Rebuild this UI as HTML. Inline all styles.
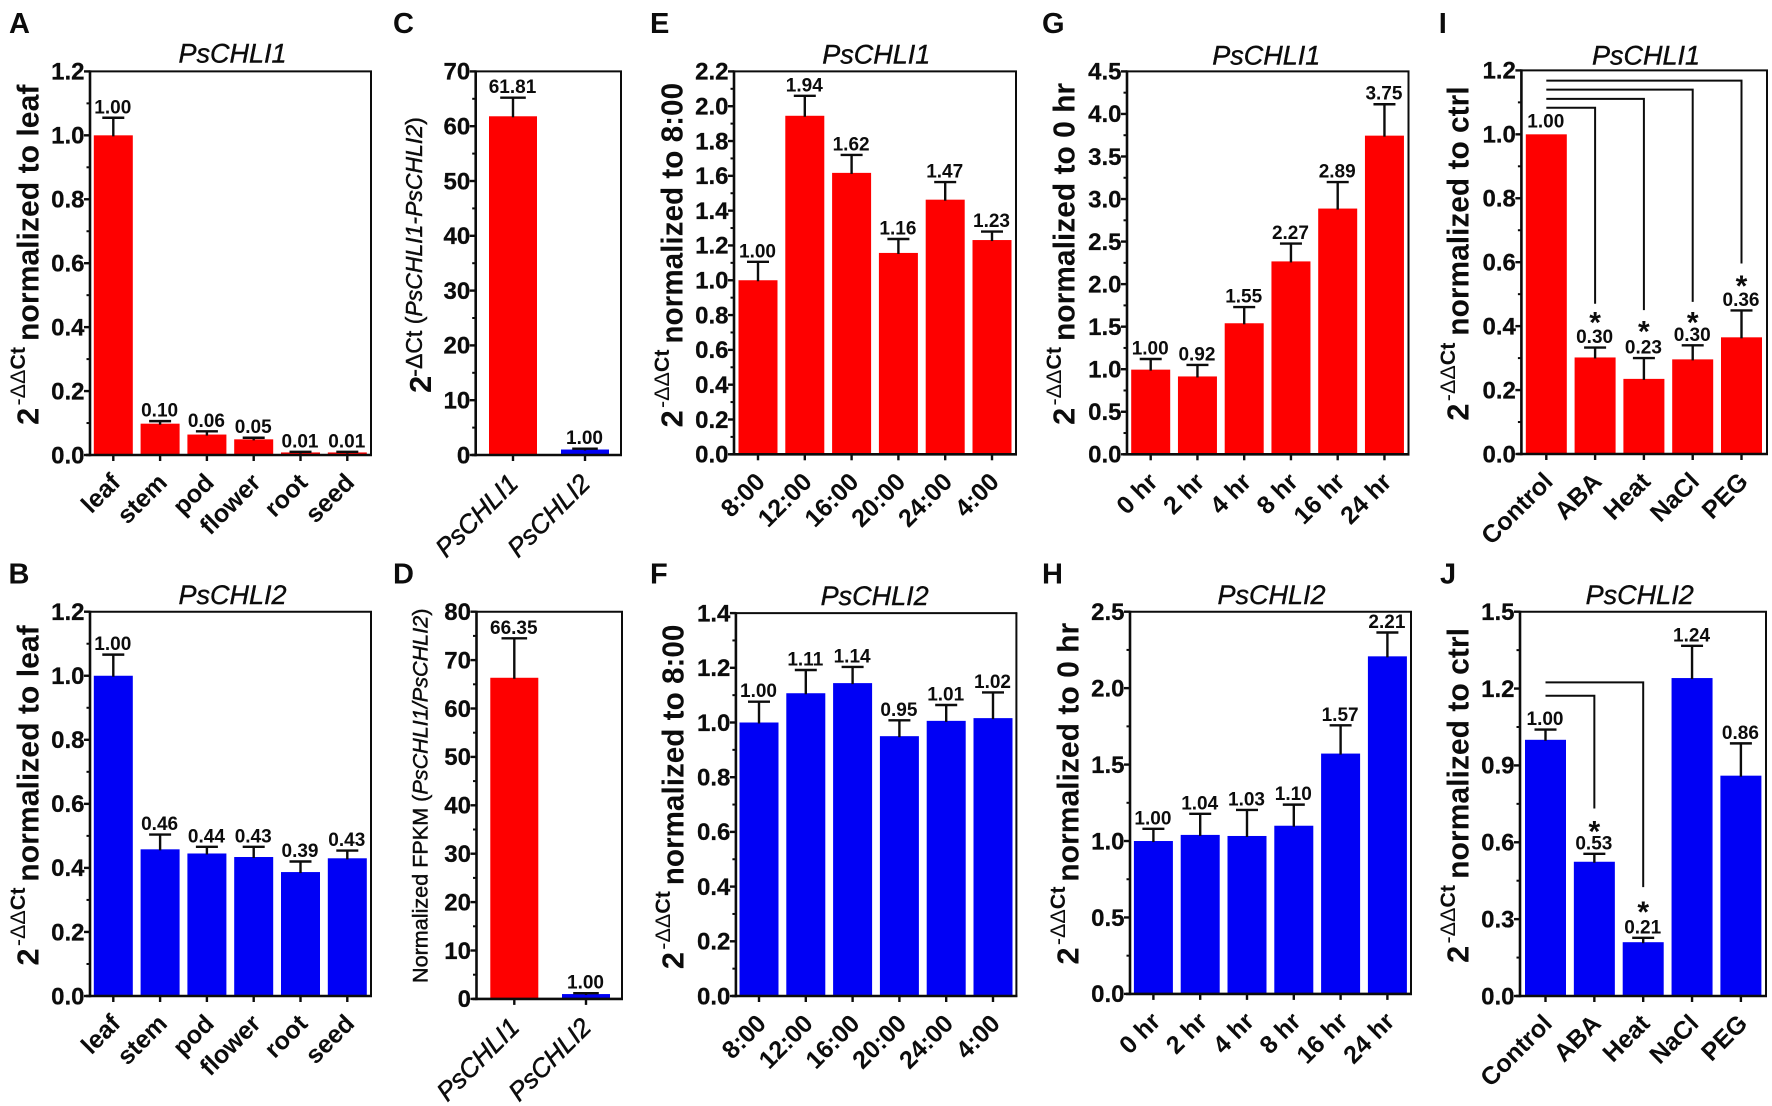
<!DOCTYPE html>
<html lang="en">
<head>
<meta charset="utf-8">
<title>PsCHLI1 and PsCHLI2 expression panels</title>
<style>
  html, body { margin: 0; padding: 0; background: #fff; }
  #figure { display: block; width: 1772px; height: 1106px; background: #fff; }
  text { font-family: "Liberation Sans", Arial, sans-serif; fill: #0c0c0c; }
  .letter { font-size: 29px; font-weight: 700; }
  .title { font-size: 27px; font-style: italic; stroke: #0c0c0c; stroke-width: .4px; }
  .tick { font-size: 24px; font-weight: 700; stroke: #0c0c0c; stroke-width: .25px; }
  .cat { font-size: 25px; font-weight: 700; }
  .cat-i { font-size: 26px; font-style: italic; font-weight: 400; stroke: #0c0c0c; stroke-width: .5px; }
  .val { font-size: 19px; font-weight: 700; }
  .star { font-size: 30px; font-weight: 700; }
  .yt { font-size: 31px; font-weight: 700; }
  .sup { font-size: 21.5px; font-weight: 700; }
  .sup .thin { font-weight: 400; }
  .yt-small { font-size: 23px; font-weight: 400; stroke: #0c0c0c; stroke-width: .45px; }
  .yt-fpkm { font-size: 21.6px; font-weight: 400; stroke: #0c0c0c; stroke-width: .45px; }
</style>
</head>
<body>
<svg id="figure" xmlns="http://www.w3.org/2000/svg" width="1772" height="1106" viewBox="0 0 1772 1106"></svg>
<script>
// ---- Panel data ----
const tissues = ['leaf', 'stem', 'pod', 'flower', 'root', 'seed'];
const genes = ['PsCHLI1', 'PsCHLI2'];
const clock = ['8:00', '12:00', '16:00', '20:00', '24:00', '4:00'];
const hours = ['0 hr', '2 hr', '4 hr', '8 hr', '16 hr', '24 hr'];
const stress = ['Control', 'ABA', 'Heat', 'NaCl', 'PEG'];

const valuesA = [1.0, 0.098, 0.064, 0.049, 0.008, 0.008];
const errorsA = [1.055, 0.106, 0.074, 0.054, 0.010, 0.010];
const labelsA = ['1.00', '0.10', '0.06', '0.05', '0.01', '0.01'];
const ticksA = ['0.0', '0.2', '0.4', '0.6', '0.8', '1.0', '1.2'];

const valuesB = [1.0, 0.458, 0.445, 0.434, 0.387, 0.43];
const errorsB = [1.066, 0.504, 0.466, 0.466, 0.42, 0.454];
const labelsB = ['1.00', '0.46', '0.44', '0.43', '0.39', '0.43'];
const ticksB = ['0.0', '0.2', '0.4', '0.6', '0.8', '1.0', '1.2'];

const valuesC = [61.81, 1.0];
const errorsC = [65.2, 1.15];
const labelsC = ['61.81', '1.00'];
const ticksC = ['0', '10', '20', '30', '40', '50', '60', '70'];

const valuesD = [66.35, 1.0];
const errorsD = [74.5, 1.18];
const labelsD = ['66.35', '1.00'];
const ticksD = ['0', '10', '20', '30', '40', '50', '60', '70', '80'];

const valuesE = [1.0, 1.945, 1.617, 1.157, 1.463, 1.231];
const errorsE = [1.106, 2.06, 1.72, 1.237, 1.564, 1.28];
const labelsE = ['1.00', '1.94', '1.62', '1.16', '1.47', '1.23'];
const ticksE = ['0.0', '0.2', '0.4', '0.6', '0.8', '1.0', '1.2', '1.4', '1.6', '1.8', '2.0', '2.2'];

const valuesF = [1.0, 1.107, 1.144, 0.95, 1.006, 1.016];
const errorsF = [1.076, 1.192, 1.203, 1.008, 1.064, 1.11];
const labelsF = ['1.00', '1.11', '1.14', '0.95', '1.01', '1.02'];
const ticksF = ['0.0', '0.2', '0.4', '0.6', '0.8', '1.0', '1.2', '1.4'];

const valuesG = [0.995, 0.915, 1.54, 2.267, 2.888, 3.745];
const errorsG = [1.12, 1.05, 1.73, 2.477, 3.2, 4.114];
const labelsG = ['1.00', '0.92', '1.55', '2.27', '2.89', '3.75'];
const ticksG = ['0.0', '0.5', '1.0', '1.5', '2.0', '2.5', '3.0', '3.5', '4.0', '4.5'];

const valuesH = [1.0, 1.04, 1.033, 1.10, 1.572, 2.208];
const errorsH = [1.08, 1.178, 1.203, 1.238, 1.757, 2.364];
const labelsH = ['1.00', '1.04', '1.03', '1.10', '1.57', '2.21'];
const ticksH = ['0.0', '0.5', '1.0', '1.5', '2.0', '2.5'];

const valuesI = [1.0, 0.302, 0.235, 0.296, 0.365];
const errorsI = [1.0, 0.333, 0.30, 0.34, 0.449];
const labelsI = ['1.00', '0.30', '0.23', '0.30', '0.36'];
const ticksI = ['0.0', '0.2', '0.4', '0.6', '0.8', '1.0', '1.2'];
const bracketTargetsI = [1, 2, 3, 4];
const bracketLevelsI = [1.083, 1.111, 1.14, 1.168];
const bracketEndsI = [0.47, 0.45, 0.476, 0.596];
const starLevelsI = [0.431, 0.403, 0.431, 0.546];

const valuesJ = [1.0, 0.524, 0.21, 1.241, 0.86];
const errorsJ = [1.04, 0.555, 0.227, 1.367, 0.986];
const labelsJ = ['1.00', '0.53', '0.21', '1.24', '0.86'];
const ticksJ = ['0.0', '0.3', '0.6', '0.9', '1.2', '1.5'];
const bracketTargetsJ = [1, 2];
const bracketLevelsJ = [1.172, 1.224];
const bracketEndsJ = [0.732, 0.425];
const starLevelsJ = [0.667, 0.353];

// ---- Drawing helpers ----
const NS = 'http://www.w3.org/2000/svg';
const svg = document.getElementById('figure');
const RED = '#fe0000';
const BLUE = '#0000f5';
const INK = '#0c0c0c';

function mk(tag, attrs, parent, content) {
  const el = document.createElementNS(NS, tag);
  for (const k in attrs) el.setAttribute(k, attrs[k]);
  if (content !== undefined) el.textContent = content;
  parent.appendChild(el);
  return el;
}
function line(parent, x1, y1, x2, y2, w) {
  return mk('line', { x1: x1, y1: y1, x2: x2, y2: y2, stroke: INK, 'stroke-width': w }, parent);
}

function drawPanel(p, d) {
  const g = mk('g', {}, svg);
  
  

  const tickNums = d.ticks.map(Number);
  const yMax = tickNums[tickNums.length - 1];
  const yScale = v => p.bottom - (v / yMax) * (p.bottom - p.top);
  const xScale = i => p.x0 + i * p.step;

  const letter = mk('text', { x: p.letterX, y: p.letterY, class: 'letter' }, g, p.id);
  
  

  if (p.title) {
    const title = mk('text', { x: p.titleX, y: p.titleY, class: 'title', 'text-anchor': 'middle' }, g, p.title);
    
    
  }

  // bars
  d.values.forEach((v, i) => {
    const color = p.colors ? p.colors[i] : p.color;
    const bar = mk('rect', {
      x: xScale(i) - p.barW / 2, y: yScale(v),
      width: p.barW, height: p.bottom - yScale(v), fill: color
    }, g);
    
    
  });

  // error bars and printed values
  d.values.forEach((v, i) => {
    const x = xScale(i);
    const ey = yScale(d.errors[i]);
    if (d.errors[i] > v) {
      const eg = mk('g', {}, g);
      
      
      line(eg, x, yScale(v) + 1, x, ey, 2.4);
      line(eg, x - p.capW / 2, ey, x + p.capW / 2, ey, 2.4);
    }
    const gap = d.errors[i] > v ? 4.5 : 6.8;
    const lab = mk('text', { x: x - 0.5, y: ey - gap, class: 'val', 'text-anchor': 'middle' }, g, d.labels[i]);
    
    
  });

  // frame
  const frame = mk('g', {}, g);
  
  
  line(frame, p.left, p.top, p.right + 1, p.top, 2);
  line(frame, p.right, p.top, p.right, p.bottom + 1, 2);
  line(frame, p.left, p.top - 1, p.left, p.bottom + 1.2, 2.6);
  line(frame, p.left - 4, p.bottom, p.right + 1, p.bottom, 2.6);

  // y axis ticks
  tickNums.forEach((t, i) => {
    const y = yScale(t);
    const tk = line(g, p.left - 6, y, p.left, y, 2.4);
    
    
    const lb = mk('text', { x: p.left - 5.5, y: y + 8.3, class: 'tick', 'text-anchor': 'end' }, g, d.ticks[i]);
    
    
    if (i < tickNums.length - 1) {
      const my = yScale((t + tickNums[i + 1]) / 2);
      const mt = line(g, p.left - 3.5, my, p.left, my, 2);
      
      
    }
  });

  // x axis ticks and labels
  d.cats.forEach((c, i) => {
    const x = xScale(i);
    const tk = line(g, x, p.bottom, x, p.bottom + 6, 2.4);
    
    
    const lx = x + p.catDx, ly = p.bottom + p.catDy;
    const lb = mk('text', {
      x: lx, y: ly, class: p.italicCats ? 'cat-i' : 'cat', 'text-anchor': 'end',
      transform: 'rotate(-45 ' + lx + ' ' + ly + ')'
    }, g, c);
    
    
  });

  // significance brackets
  if (d.bracketTargets) {
    d.bracketTargets.forEach((target, i) => {
      const by = yScale(d.bracketLevels[i]);
      const br = mk('path', {
        d: 'M' + xScale(0) + ' ' + by + 'H' + xScale(target) + 'V' + yScale(d.bracketEnds[i]),
        fill: 'none', stroke: INK, 'stroke-width': 2
      }, g);
      
      
      const st = mk('text', {
        x: xScale(target), y: yScale(d.starLevels[i]) + 16.5, class: 'star', 'text-anchor': 'middle'
      }, g, '*');
      
      
    });
  }

  // y axis title
  const yg = mk('g', {}, g);
  
  
  if (p.yKind === 'qpcr') {
    mk('text', { class: 'yt', transform: 'translate(' + p.yX + ' ' + p.yStart + ') rotate(-90)' }, yg, '2');
    const sup = mk('text', { class: 'sup', transform: 'translate(' + (p.yX - 13.5) + ' ' + (p.yStart - 19.5) + ') rotate(-90)' }, yg);
    mk('tspan', { class: 'thin' }, sup, '-ΔΔ');
    mk('tspan', {}, sup, 'Ct');
    mk('text', {
      class: 'yt', textLength: p.yEnd0 - p.yEnd, lengthAdjust: 'spacingAndGlyphs',
      transform: 'translate(' + p.yX + ' ' + p.yEnd0 + ') rotate(-90)'
    }, yg, p.yText);
  } else if (p.yKind === 'delta') {
    mk('text', { class: 'yt', transform: 'translate(' + p.yX + ' ' + p.yStart + ') rotate(-90)' }, yg, '2');
    const t = mk('text', { class: 'yt-small', transform: 'translate(' + (p.yX - 9) + ' ' + (p.yStart - 16.3) + ') rotate(-90)' }, yg);
    mk('tspan', {}, t, '-ΔCt (');
    mk('tspan', { 'font-style': 'italic' }, t, 'PsCHLI1-PsCHLI2');
    mk('tspan', {}, t, ')');
  } else {
    const t = mk('text', { class: 'yt-fpkm', transform: 'translate(' + p.yX + ' ' + p.yStart + ') rotate(-90)' }, yg);
    mk('tspan', {}, t, 'Normalized FPKM (');
    mk('tspan', { 'font-style': 'italic' }, t, 'PsCHLI1/PsCHLI2');
    mk('tspan', {}, t, ')');
  }
}

// ---- Panels ----
drawPanel({ id: 'A', letterX: 9, letterY: 33.2, title: 'PsCHLI1', titleX: 232.5, titleY: 62.5,
  left: 90, right: 371, top: 71.4, bottom: 455, x0: 113.3, step: 46.8, barW: 39, capW: 22, color: RED,
  catDx: 8.5, catDy: 29, yKind: 'qpcr', yX: 38.3, yStart: 425, yEnd0: 341, yEnd: 84.6, yText: 'normalized to leaf' },
  { cats: tissues, values: valuesA, errors: errorsA, labels: labelsA, ticks: ticksA });

drawPanel({ id: 'B', letterX: 8.5, letterY: 583.5, title: 'PsCHLI2', titleX: 232.5, titleY: 604.2,
  left: 90, right: 371, top: 611.7, bottom: 996, x0: 113.3, step: 46.8, barW: 39, capW: 22, color: BLUE,
  catDx: 8.5, catDy: 29, yKind: 'qpcr', yX: 38.3, yStart: 965.6, yEnd0: 881.7, yEnd: 625.3, yText: 'normalized to leaf' },
  { cats: tissues, values: valuesB, errors: errorsB, labels: labelsB, ticks: ticksB });

drawPanel({ id: 'C', letterX: 393, letterY: 33.2,
  left: 475.7, right: 621, top: 71.4, bottom: 455, x0: 513, step: 72, barW: 48, capW: 25.6, colors: [RED, BLUE],
  catDx: 6.7, catDy: 30, italicCats: true, yKind: 'delta', yX: 431, yStart: 393 },
  { cats: genes, values: valuesC, errors: errorsC, labels: labelsC, ticks: ticksC });

drawPanel({ id: 'D', letterX: 393, letterY: 583.5,
  left: 476.5, right: 622, top: 611.7, bottom: 998.9, x0: 514.3, step: 71.7, barW: 48, capW: 25.6, colors: [RED, BLUE],
  catDx: 6.7, catDy: 30, italicCats: true, yKind: 'fpkm', yX: 427.7, yStart: 983 },
  { cats: genes, values: valuesD, errors: errorsD, labels: labelsD, ticks: ticksD });

drawPanel({ id: 'E', letterX: 650, letterY: 33.2, title: 'PsCHLI1', titleX: 876.3, titleY: 63.6,
  left: 734, right: 1016, top: 71.4, bottom: 454.3, x0: 758, step: 46.8, barW: 39, capW: 22, color: RED,
  catDx: 8.5, catDy: 29, yKind: 'qpcr', yX: 682.3, yStart: 427.5, yEnd0: 343.6, yEnd: 82.9, yText: 'normalized to 8:00' },
  { cats: clock, values: valuesE, errors: errorsE, labels: labelsE, ticks: ticksE });

drawPanel({ id: 'F', letterX: 650, letterY: 583.5, title: 'PsCHLI2', titleX: 874.6, titleY: 604.9,
  left: 735.9, right: 1016.4, top: 613.1, bottom: 996, x0: 759, step: 46.8, barW: 39, capW: 22, color: BLUE,
  catDx: 8.5, catDy: 29, yKind: 'qpcr', yX: 683.4, yStart: 969.2, yEnd0: 885.3, yEnd: 624.6, yText: 'normalized to 8:00' },
  { cats: clock, values: valuesF, errors: errorsF, labels: labelsF, ticks: ticksF });

drawPanel({ id: 'G', letterX: 1042, letterY: 33.2, title: 'PsCHLI1', titleX: 1266.3, titleY: 64.3,
  left: 1127, right: 1408.5, top: 71.4, bottom: 454.3, x0: 1150.7, step: 46.75, barW: 39, capW: 22, color: RED,
  catDx: 8.5, catDy: 29, yKind: 'qpcr', yX: 1074.5, yStart: 425, yEnd0: 341, yEnd: 82.9, yText: 'normalized to 0 hr' },
  { cats: hours, values: valuesG, errors: errorsG, labels: labelsG, ticks: ticksG });

drawPanel({ id: 'H', letterX: 1042, letterY: 583.5, title: 'PsCHLI2', titleX: 1271.5, titleY: 604.2,
  left: 1130, right: 1411, top: 611.7, bottom: 993.9, x0: 1153.4, step: 46.8, barW: 39, capW: 22, color: BLUE,
  catDx: 8.5, catDy: 29, yKind: 'qpcr', yX: 1078.4, yStart: 964.6, yEnd0: 881.7, yEnd: 622.8, yText: 'normalized to 0 hr' },
  { cats: hours, values: valuesH, errors: errorsH, labels: labelsH, ticks: ticksH });

drawPanel({ id: 'I', letterX: 1438.7, letterY: 33.2, title: 'PsCHLI1', titleX: 1646, titleY: 64.3,
  left: 1521.4, right: 1767, top: 70.4, bottom: 454, x0: 1546.3, step: 48.8, barW: 41, capW: 22, color: RED,
  catDx: 8, catDy: 29, yKind: 'qpcr', yX: 1468.6, yStart: 420.7, yEnd0: 335.7, yEnd: 86.4, yText: 'normalized to ctrl' },
  { cats: stress, values: valuesI, errors: errorsI, labels: labelsI, ticks: ticksI,
    bracketTargets: bracketTargetsI, bracketLevels: bracketLevelsI, bracketEnds: bracketEndsI, starLevels: starLevelsI });

drawPanel({ id: 'J', letterX: 1440, letterY: 583.5, title: 'PsCHLI2', titleX: 1639.7, titleY: 604.2,
  left: 1520, right: 1766, top: 611.7, bottom: 996, x0: 1545.5, step: 48.85, barW: 41, capW: 22, color: BLUE,
  catDx: 8, catDy: 29, yKind: 'qpcr', yX: 1468.6, yStart: 963, yEnd0: 878.9, yEnd: 628, yText: 'normalized to ctrl' },
  { cats: stress, values: valuesJ, errors: errorsJ, labels: labelsJ, ticks: ticksJ,
    bracketTargets: bracketTargetsJ, bracketLevels: bracketLevelsJ, bracketEnds: bracketEndsJ, starLevels: starLevelsJ });
</script>
</body>
</html>
